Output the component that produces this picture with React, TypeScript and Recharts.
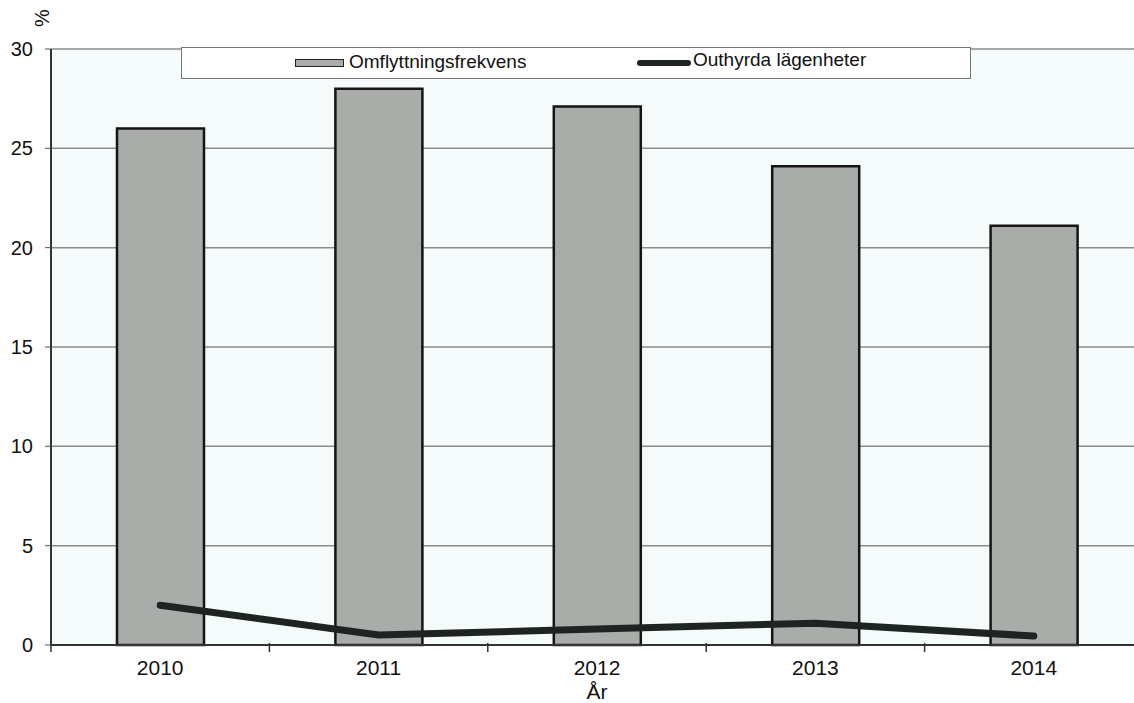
import React from 'react';
import { ComposedChart, Bar, Line, XAxis, YAxis, CartesianGrid } from 'recharts';

const years = ['2010', '2011', '2012', '2013', '2014'];
const omflyttningsfrekvens = [26, 28, 27.1, 24.1, 21.1];
const outhyrda = [2.0, 0.5, 0.8, 1.1, 0.45];
const yTicks = [0, 5, 10, 15, 20, 25, 30];

const data = years.map((y, i) => ({ year: y, omf: omflyttningsfrekvens[i], out: outhyrda[i] }));

const CHART_W = 1160;
const CHART_H = 703;
const MARGIN = { top: 49, right: 17, bottom: 0, left: 0 };
const Y_W = 51;
const X_H = 58;
const PLOT_W = CHART_W - MARGIN.left - MARGIN.right - Y_W;
const HALF_BAND = PLOT_W / years.length / 2;
const X_TICK_MARGIN = 15;
const FONT = 'Arial, "Liberation Sans", Helvetica, sans-serif';

const XTick = (props: any) => {
  const { x, y, payload, index } = props;
  const axisY = y - X_TICK_MARGIN;
  return (
    <g>
      {index === 0 && (
        <line x1={x - HALF_BAND} x2={x - HALF_BAND} y1={axisY - 2} y2={axisY + 7} stroke="#333" strokeWidth={1.5} />
      )}
      <line x1={x + HALF_BAND} x2={x + HALF_BAND} y1={axisY - 2} y2={axisY + 7} stroke="#333" strokeWidth={1.5} />
      <text x={x} y={y} dy="0.71em" textAnchor="middle" fontSize={21} fontFamily={FONT} fill="#111">
        {payload.value}
      </text>
    </g>
  );
};

const LegendBox = () => (
  <div
    style={{
      position: 'absolute',
      left: 181,
      top: 47,
      width: 790,
      height: 32,
      boxSizing: 'border-box',
      border: '1.5px solid #777',
      background: '#ffffff',
      fontFamily: FONT,
      fontSize: 19,
      color: '#111',
    }}
  >
    <div
      style={{
        position: 'absolute',
        left: 113,
        top: 11,
        width: 49,
        height: 8,
        background: '#a9aca9',
        border: '1.5px solid #222',
        boxSizing: 'border-box',
      }}
    />
    <span style={{ position: 'absolute', left: 167, top: 3, lineHeight: '22px', whiteSpace: 'nowrap' }}>
      Omflyttningsfrekvens
    </span>
    <div
      style={{
        position: 'absolute',
        left: 455,
        top: 12,
        width: 54,
        height: 6,
        background: '#1e2422',
        borderRadius: 3,
      }}
    />
    <span style={{ position: 'absolute', left: 511, top: 1, lineHeight: '22px', whiteSpace: 'nowrap' }}>
      Outhyrda lägenheter
    </span>
  </div>
);

export default function App() {
  return (
    <div
      style={{
        position: 'absolute',
        left: 0,
        top: 0,
        width: 1134,
        height: 703,
        overflow: 'hidden',
        background: '#ffffff',
      }}
    >
      <ComposedChart width={CHART_W} height={CHART_H} data={data} margin={MARGIN}>
        <CartesianGrid horizontal vertical={false} stroke="#8c8c8c" strokeWidth={1.5} fill="#f5fbfb" />
        <XAxis
          dataKey="year"
          height={X_H}
          tickSize={0}
          tickMargin={X_TICK_MARGIN}
          tick={<XTick />}
          axisLine={{ stroke: '#333', strokeWidth: 2 }}
          tickLine={false}
          interval={0}
          label={{ value: 'År', position: 'insideBottom', offset: 4, fontSize: 21, fontFamily: FONT, fill: '#111' }}
        />
        <YAxis
          width={Y_W}
          domain={[0, 30]}
          ticks={yTicks}
          interval={0}
          tickSize={6}
          tickMargin={12}
          axisLine={{ stroke: '#333', strokeWidth: 2 }}
          tickLine={{ stroke: '#555', strokeWidth: 1 }}
          tick={{ fontSize: 20, fontFamily: FONT, fill: '#111' }}
        />
        <Bar
          dataKey="omf"
          name="Omflyttningsfrekvens"
          barSize={87}
          fill="#a9aca9"
          stroke="#151515"
          strokeWidth={2.5}
          isAnimationActive={false}
        />
        <Line
          dataKey="out"
          name="Outhyrda lägenheter"
          type="linear"
          stroke="#1e2422"
          strokeWidth={7}
          strokeLinecap="round"
          strokeLinejoin="round"
          dot={false}
          activeDot={false}
          isAnimationActive={false}
        />
      </ComposedChart>
      <LegendBox />
      <div
        style={{
          position: 'absolute',
          left: 32,
          top: 7,
          width: 20,
          height: 22,
          fontFamily: FONT,
          fontSize: 20,
          color: '#111',
          lineHeight: '22px',
          textAlign: 'center',
          transform: 'rotate(-90deg)',
        }}
      >
        %
      </div>
    </div>
  );
}
